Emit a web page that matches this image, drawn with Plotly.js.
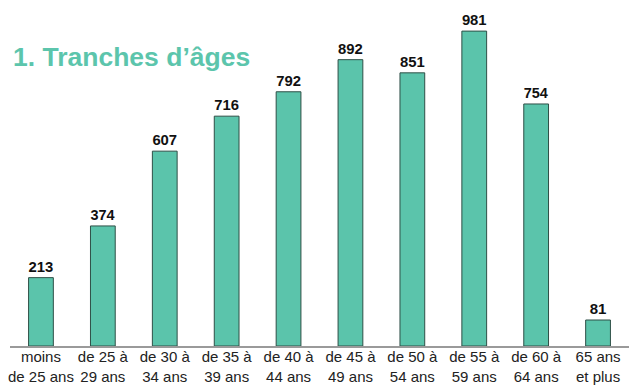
<!DOCTYPE html>
<html><head><meta charset="utf-8">
<script src="https://cdn.plot.ly/plotly-3.0.1.min.js"></script>
<style>html,body{margin:0;padding:0;background:#fff}#chart{width:629px;height:386px}</style>
</head><body><div id="chart"></div>
<script>
const categories = ["moins<br>de 25 ans","de 25 à<br>29 ans","de 30 à<br>34 ans","de 35 à<br>39 ans","de 40 à<br>44 ans","de 45 à<br>49 ans","de 50 à<br>54 ans","de 55 à<br>59 ans","de 60 à<br>64 ans","65 ans<br>et plus"];
const values = [213, 374, 607, 716, 792, 892, 851, 981, 754, 81];

const trace = {
  type: 'bar', x: categories, y: values,
  text: values.map(v => '<b>' + v + '</b>'), textposition: 'outside', cliponaxis: false,
  textfont: {family: 'Liberation Sans, Arial, sans-serif', size: 15, color: '#111'},
  marker: {color: '#5bc4ab', line: {color: '#2e4f46', width: 1}},
  hoverinfo: 'none'
};
const layout = {
  width: 629, height: 386,
  margin: {l: 10, r: 0, t: 25, b: 40},
  paper_bgcolor: '#fff', plot_bgcolor: '#fff',
  bargap: 0.6, showlegend: false,
  font: {family: 'Liberation Sans, Arial, sans-serif', color: '#222'},
  xaxis: {showline: true, linecolor: '#9a9a9a', linewidth: 2, ticks: '', showgrid: false,
          tickfont: {size: 15, color: '#222'}, ticklabelstandoff: -4, fixedrange: true},
  yaxis: {range: [0, 1000], visible: false, showgrid: false, zeroline: false, fixedrange: true},
  annotations: [{
    text: '<b>1. Tranches d’âges</b>', xref: 'paper', yref: 'paper',
    x: 0.002, y: 0.90, xanchor: 'left', yanchor: 'middle', showarrow: false,
    font: {family: 'Liberation Sans, Arial, sans-serif', size: 26.5, color: '#5cc5ac'}
  }]
};
Plotly.newPlot('chart', [trace], layout, {displayModeBar: false, staticPlot: true});
</script></body></html>
